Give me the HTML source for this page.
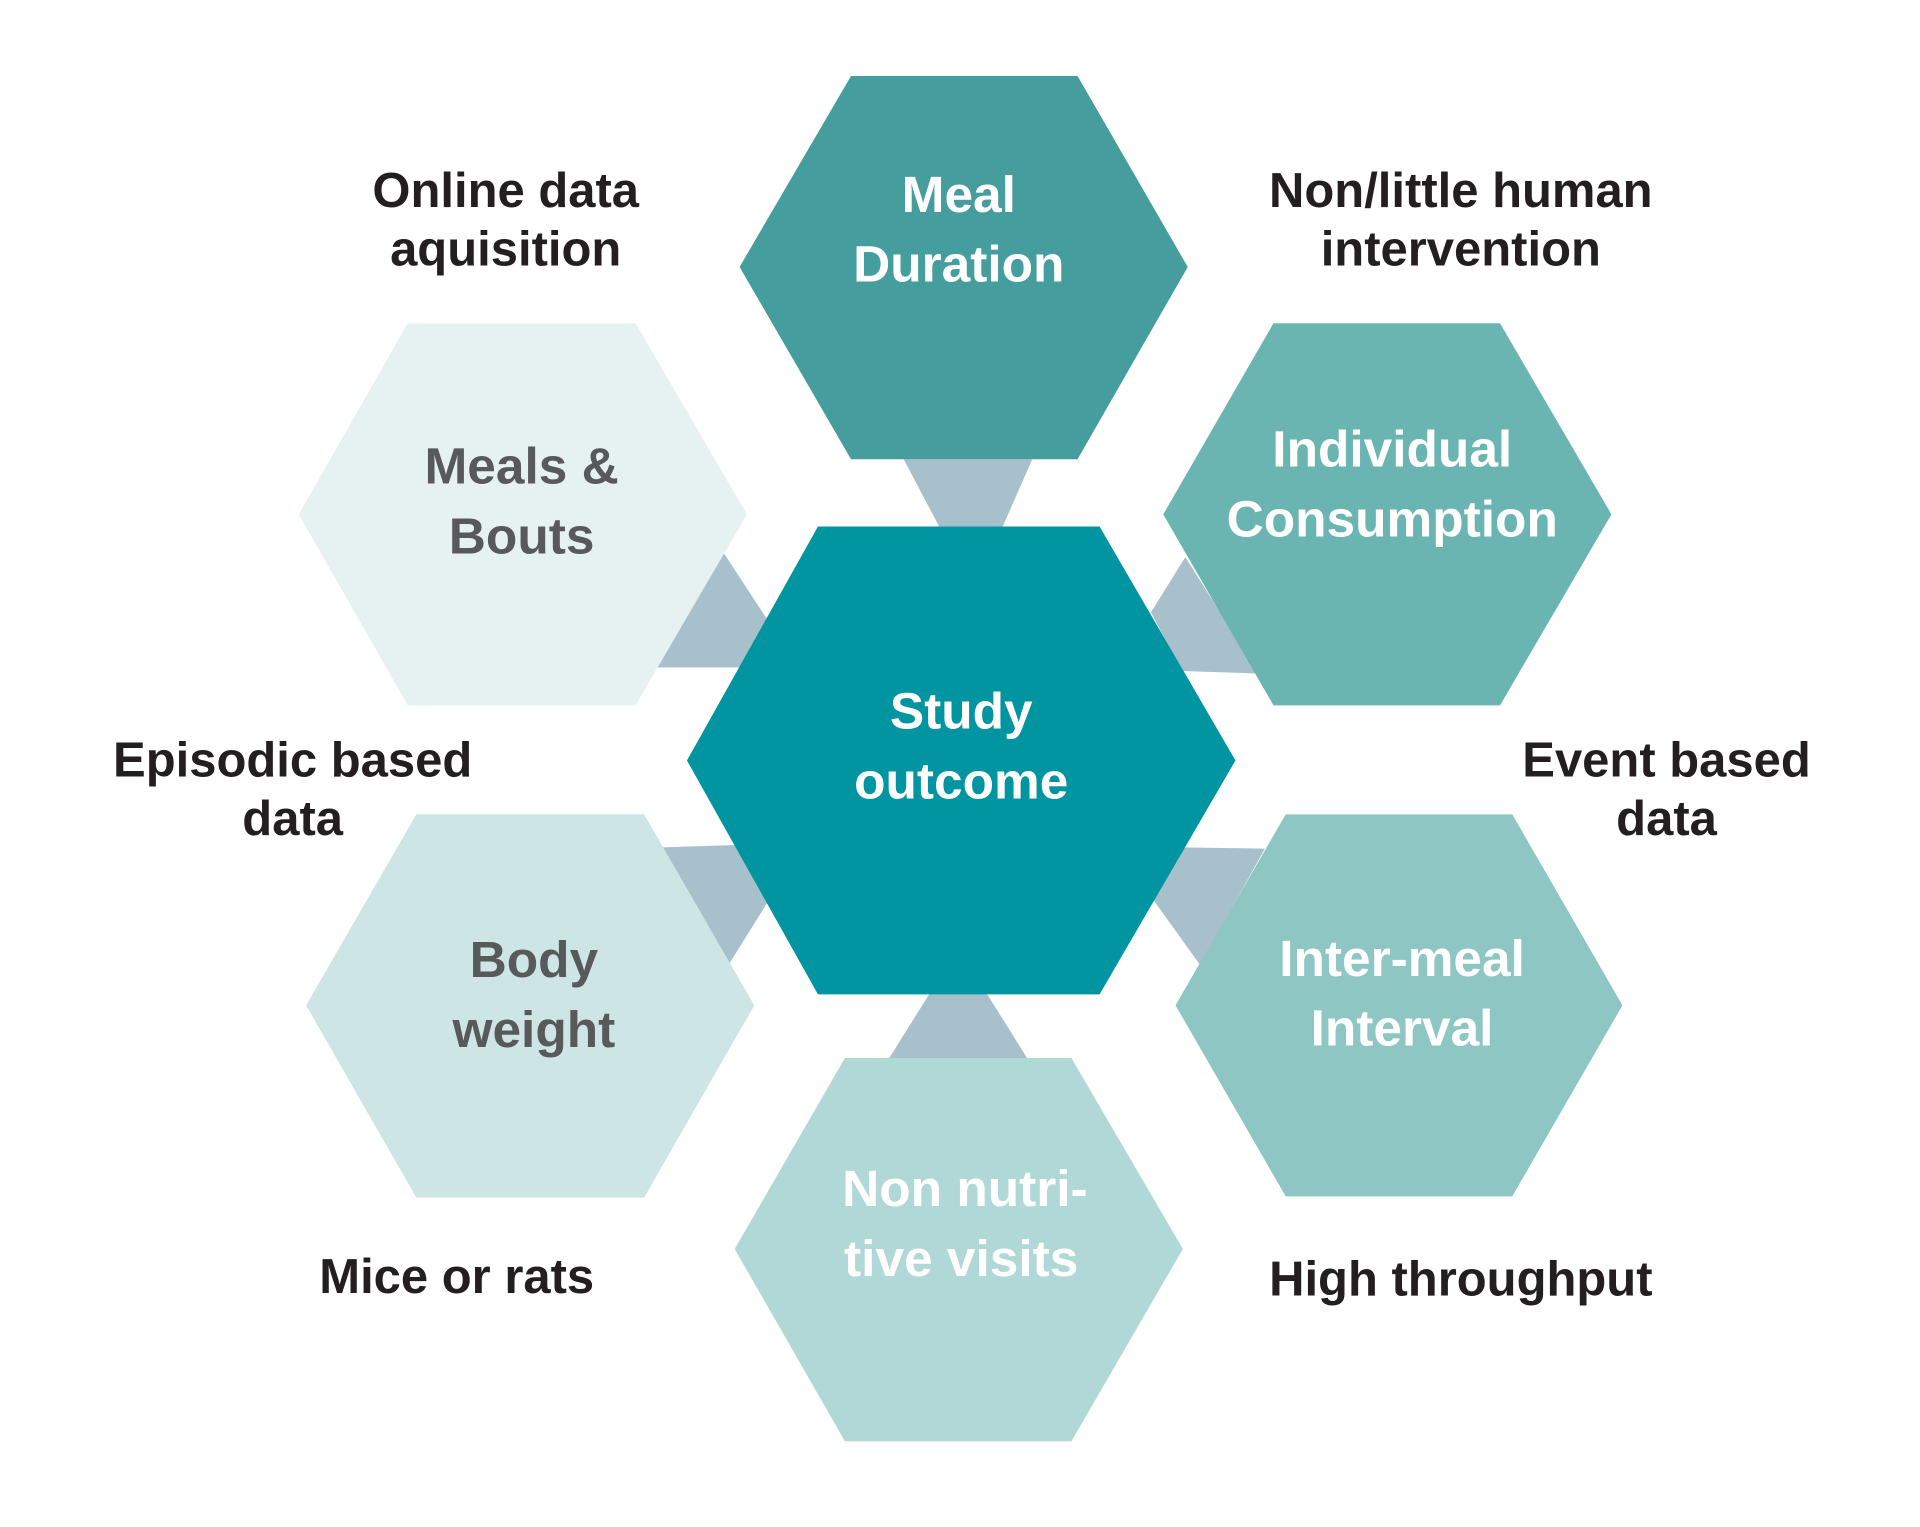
<!DOCTYPE html>
<html><head><meta charset="utf-8"><style>
html,body{margin:0;padding:0;background:#fff;}
svg{display:block;}
text{font-family:"Liberation Sans","DejaVu Sans",sans-serif;font-weight:bold;text-anchor:middle;}
.w{fill:#fff;font-size:42px;}
.g{fill:#58595b;font-size:42px;}
.b{fill:#231f20;font-size:40px;font-weight:bold;}
</style></head><body>
<svg width="1920" height="1527" viewBox="0 0 1568 1247" xmlns="http://www.w3.org/2000/svg">
<rect width="1568" height="1247" fill="#fff"/>
<!-- connectors -->
<g fill="#a8c0cb">
<polygon points="738,375 843,375 818,432 768,432"/>
<polygon points="760,810 805,810 840,866 725,866"/>
<polygon points="590,450 628,508 607,545 535,545"/>
<polygon points="540,692 605,690 628,735 595,788"/>
<polygon points="968,455 1028,550 965,548 940,500"/>
<polygon points="965,692 1033,693 980,788 942,735"/>
</g>
<!-- hexagons -->
<polygon fill="#469d9d" points="695,62 880,62 970,218 880,375 695,375 604,218"/>
<polygon fill="#6ab5b2" points="1040,264 1225,264 1316,420 1225,576 1040,576 950,420"/>
<polygon fill="#e6f2f1" points="333,264 519,264 610,420 519,576 333,576 244,420"/>
<polygon fill="#cde5e4" points="340,665 526,665 616,821 526,978 340,978 250,821"/>
<polygon fill="#b0d8d7" points="690,864 875,864 966,1020 875,1177 690,1177 600,1020"/>
<polygon fill="#8dc6c2" points="1050,665 1235,665 1325,821 1235,977 1050,977 960,821"/>
<polygon fill="#0095a0" points="668,430 898,430 1009,621 898,812 668,812 561,621"/>
<!-- hex labels -->
<text class="w" x="783" y="173">Meal</text>
<text class="w" x="783" y="230">Duration</text>
<text class="w" x="1137" y="381">Individual</text>
<text class="w" x="1137" y="438">Consumption</text>
<text class="g" x="426" y="395">Meals &amp;</text>
<text class="g" x="426" y="452">Bouts</text>
<text class="g" x="436" y="798">Body</text>
<text class="g" x="436" y="855">weight</text>
<text class="w" x="785" y="595">Study</text>
<text class="w" x="785" y="652">outcome</text>
<text class="w" x="788" y="985">Non nutri-</text>
<text class="w" x="785" y="1042">tive visits</text>
<text class="w" x="1145" y="797">Inter-meal</text>
<text class="w" x="1145" y="854">Interval</text>
<!-- outer labels -->
<text class="b" x="413" y="169">Online data</text>
<text class="b" x="413" y="217">aquisition</text>
<text class="b" x="1193" y="169">Non/little human</text>
<text class="b" x="1193" y="217">intervention</text>
<text class="b" x="239" y="634">Episodic based</text>
<text class="b" x="239" y="682">data</text>
<text class="b" x="1361" y="634">Event based</text>
<text class="b" x="1361" y="682">data</text>
<text class="b" x="373" y="1056">Mice or rats</text>
<text class="b" x="1193" y="1058">High throughput</text>
</svg>
</body></html>
